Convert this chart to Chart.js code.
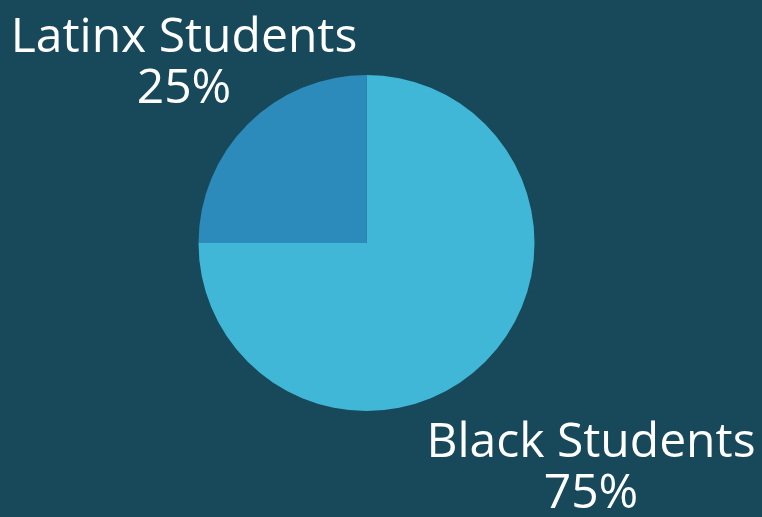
<!DOCTYPE html>
<html>
<head>
<meta charset="utf-8">
<script src="https://cdn.jsdelivr.net/npm/chart.js@4/dist/chart.umd.min.js"></script>
<style>
  html, body { margin: 0; padding: 0; background: #17495a; }
  #wrap { width: 762px; height: 517px; position: relative; }
</style>
</head>
<body>
<div id="wrap"><canvas id="c" width="762" height="517"></canvas></div>
<script>
const categories = ["Black Students", "Latinx Students"];
const values = [75, 25];
const percentLabels = ["75%", "25%"];
const sliceColors = ["#41b7d7", "#2d8bbb"];

// label anchor positions (canvas px): centre x, baseline of first text line
const labelAnchors = [
  { x: 591, y: 457 },
  { x: 184, y: 52 }
];

const labelPlugin = {
  id: 'sliceLabels',
  afterDraw(chart) {
    const ctx = chart.ctx;
    ctx.save();
    ctx.fillStyle = '#ffffff';
    ctx.textAlign = 'center';
    ctx.textBaseline = 'alphabetic';
    ctx.font = '48px "Open Sans"';
    chart.data.labels.forEach((lab, i) => {
      const a = labelAnchors[i];
      ctx.fillText(lab, a.x, a.y);
      ctx.fillText(percentLabels[i], a.x, a.y + 51);
    });
    ctx.restore();
  }
};

new Chart(document.getElementById('c'), {
  type: 'pie',
  data: {
    labels: categories,
    datasets: [{
      data: values,
      backgroundColor: sliceColors,
      borderWidth: 0
    }]
  },
  options: {
    responsive: false,
    animation: false,
    layout: { padding: { top: 75, bottom: 106, left: 198, right: 227 } },
    plugins: {
      legend: { display: false },
      tooltip: { enabled: false }
    }
  },
  plugins: [labelPlugin]
});
</script>
</body>
</html>
